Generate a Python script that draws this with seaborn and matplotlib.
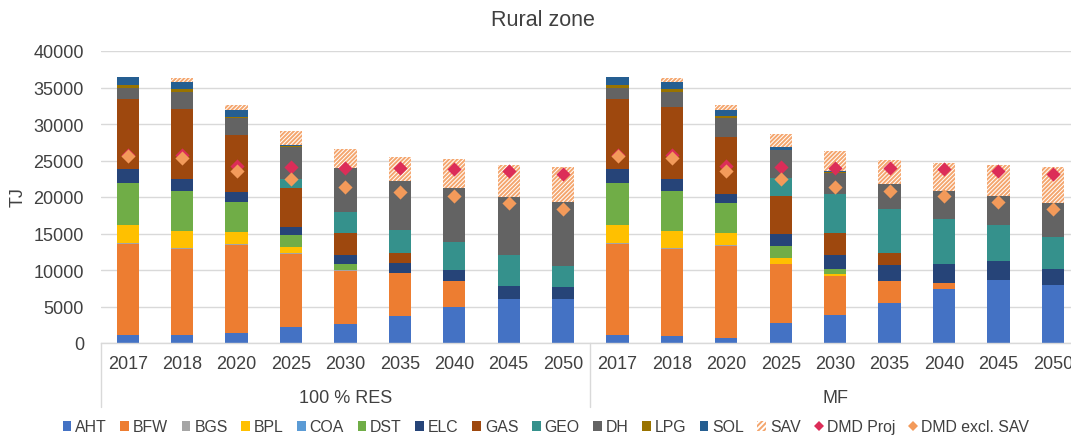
import numpy as np
import pandas as pd
import matplotlib
matplotlib.use('Agg')
import matplotlib.pyplot as plt
import seaborn as sns
from matplotlib.patches import Patch
from matplotlib.lines import Line2D

# categories
years = ['2017', '2018', '2020', '2025', '2030', '2035', '2040', '2045', '2050']
groups = ['100 % RES', 'MF']

# stacked series (TJ), first 9 = 100 % RES, last 9 = MF
AHT = [1140, 1050, 1320, 2150, 2650, 3740, 4980, 6070, 6070,
       1140, 1000, 730, 2790, 3880, 5525, 7350, 8585, 7990]
BFW = [12450, 11830, 12100, 10100, 7200, 5800, 3560, 0, 0,
       12450, 11880, 12550, 8080, 5340, 2965, 820, 0, 0]
BGS = [110, 100, 100, 80, 100, 0, 0, 0, 0,
       110, 100, 100, 0, 0, 0, 0, 0, 0]
BPL = [2420, 2320, 1730, 770, 0, 0, 0, 0, 0,
       2420, 2320, 1730, 820, 280, 0, 0, 0, 0]
COA = [0, 0, 0, 0, 0, 0, 0, 0, 0,
       0, 0, 0, 0, 0, 0, 0, 0, 0]
DST = [5840, 5570, 4110, 1740, 920, 0, 0, 0, 0,
       5840, 5570, 4110, 1640, 680, 0, 0, 0, 0]
ELC = [1830, 1640, 1370, 1100, 1140, 1370, 1500, 1780, 1650,
       1830, 1640, 1235, 1645, 1830, 2240, 2605, 2605, 2190]
GAS = [9680, 9590, 7810, 5340, 3100, 1460, 0, 0, 0,
       9680, 9770, 7805, 5205, 3100, 1550, 0, 0, 0]
GEO = [0, 0, 0, 1230, 2790, 3150, 3840, 4250, 2870,
       0, 0, 0, 2470, 5345, 6120, 6165, 4930, 4295]
DH = [1500, 2240, 2330, 4340, 6100, 6720, 7400, 7950, 8720,
      1500, 2060, 2610, 3830, 2835, 3425, 3925, 3970, 4745]
LPG = [330, 410, 130, 130, 0, 0, 0, 0, 0,
       330, 410, 270, 0, 150, 0, 0, 0, 0]
SOL = [1180, 1050, 960, 190, 0, 0, 0, 0, 0,
       1180, 1050, 820, 370, 150, 0, 0, 0, 0]
SAV = [0, 550, 690, 1820, 2575, 3280, 3920, 4330, 4800,
       0, 550, 690, 1825, 2750, 3285, 3835, 4340, 4935]

# demand markers
DMD_Proj = [25700, 25800, 24200, 24060, 23970, 23925, 23880, 23515, 23195,
            25700, 25800, 24200, 24110, 23970, 23925, 23880, 23515, 23195]
DMD_excl_SAV = [25600, 25400, 23515, 22420, 21320, 20730, 20090, 19220, 18310,
                25600, 25400, 23515, 22420, 21370, 20775, 20135, 19270, 18355]

series_names = ['AHT', 'BFW', 'BGS', 'BPL', 'COA', 'DST', 'ELC', 'GAS',
                'GEO', 'DH', 'LPG', 'SOL', 'SAV']
series_values = [AHT, BFW, BGS, BPL, COA, DST, ELC, GAS, GEO, DH, LPG, SOL, SAV]
colors = {
    'AHT': '#4472C4', 'BFW': '#ED7D31', 'BGS': '#A5A5A5', 'BPL': '#FFC000',
    'COA': '#5B9BD5', 'DST': '#70AD47', 'ELC': '#264478', 'GAS': '#9E480E',
    'GEO': '#35918C', 'DH': '#636363', 'LPG': '#997300', 'SOL': '#255E91',
}
hatch_col = '#F4A66E'
proj_col = '#DC2D58'
excl_col = '#F39A5A'
text_col = '#404040'

sns.set_theme(style='white')
plt.rcParams['font.family'] = ['Liberation Sans', 'DejaVu Sans']
plt.rcParams['hatch.linewidth'] = 1.4

fig = plt.figure(figsize=(10.71, 4.39), dpi=100)
ax = fig.add_axes([100.6 / 1071, 95 / 439, (1080 - 100.6) / 1071, 292 / 439])

keys = [f'{g} {y}' for g in groups for y in years]
df = pd.DataFrame({'key': keys})
for name, vals in zip(series_names, series_values):
    df[name] = vals
cum = df[series_names].cumsum(axis=1)

# stacked bars: overlay cumulative totals, top layer first
for name in reversed(series_names):
    kw = dict(saturation=1, width=0.41, linewidth=0, errorbar=None)
    if name == 'SAV':
        kw.update(color='white', hatch='////////', edgecolor=hatch_col)
    else:
        kw.update(color=colors[name])
    sns.barplot(x=df['key'], y=cum[name], order=keys, ax=ax, **kw)

pos = np.arange(len(keys))
sns.scatterplot(x=pos, y=DMD_Proj, marker='D', color=proj_col, s=52,
                linewidth=0, ax=ax, zorder=5)
sns.scatterplot(x=pos, y=DMD_excl_SAV, marker='D', color=excl_col, s=52,
                linewidth=0, ax=ax, zorder=6)

ax.set_xlim(-0.5, 17.5)
ax.set_ylim(0, 40000)
ax.set_yticks(range(0, 40001, 5000))
ax.set_xticks(pos)
ax.set_xticklabels(years * 2)
ax.set_xlabel('')
ax.set_ylabel('')
ax.tick_params(axis='x', length=0, pad=8.5, labelsize=13, labelcolor=text_col)
ax.tick_params(axis='y', length=0, pad=12, labelsize=13, labelcolor=text_col)
ax.yaxis.grid(True, color='#D9D9D9', linewidth=1)
ax.set_axisbelow(True)
for s in ['left', 'right', 'top']:
    ax.spines[s].set_visible(False)
ax.spines['bottom'].set_color('#D9D9D9')
ax.spines['bottom'].set_linewidth(1)

# group labels and separators
trans = ax.get_xaxis_transform()
for i, g in enumerate(groups):
    ax.text(4 + 9 * i, -0.185, g, transform=trans, ha='center', va='center',
            fontsize=13, color=text_col)
for xs in [-0.5, 8.5, 17.5]:
    ax.plot([xs, xs], [0, -0.219], transform=trans, color='#D9D9D9',
            linewidth=1, clip_on=False)

fig.text(543 / 1071, 1 - 21 / 439, 'Rural zone', ha='center', va='center',
         fontsize=15.5, color=text_col)
fig.text(18 / 1071, 1 - 197 / 439, 'TJ', ha='center', va='center',
         rotation=90, fontsize=13, color=text_col)

handles = [Patch(facecolor=colors[n], linewidth=0, label=n) for n in series_names[:-1]]
handles.append(Patch(facecolor='white', edgecolor=hatch_col, hatch='//////',
                     linewidth=0, label='SAV'))
handles.append(Line2D([], [], marker='D', linestyle='None', markersize=5.5,
                      markerfacecolor=proj_col, markeredgewidth=0, label='DMD Proj'))
handles.append(Line2D([], [], marker='D', linestyle='None', markersize=5.5,
                      markerfacecolor=excl_col, markeredgewidth=0, label='DMD excl. SAV'))
fig.legend(handles=handles, loc='center', bbox_to_anchor=(546 / 1071, 1 - 428 / 439),
           ncol=15, frameon=False, fontsize=11.4, handlelength=0.55,
           handleheight=0.55, handletextpad=0.25, columnspacing=0.85,
           labelcolor=text_col, borderpad=0)

fig.savefig('out.png', dpi=100)
